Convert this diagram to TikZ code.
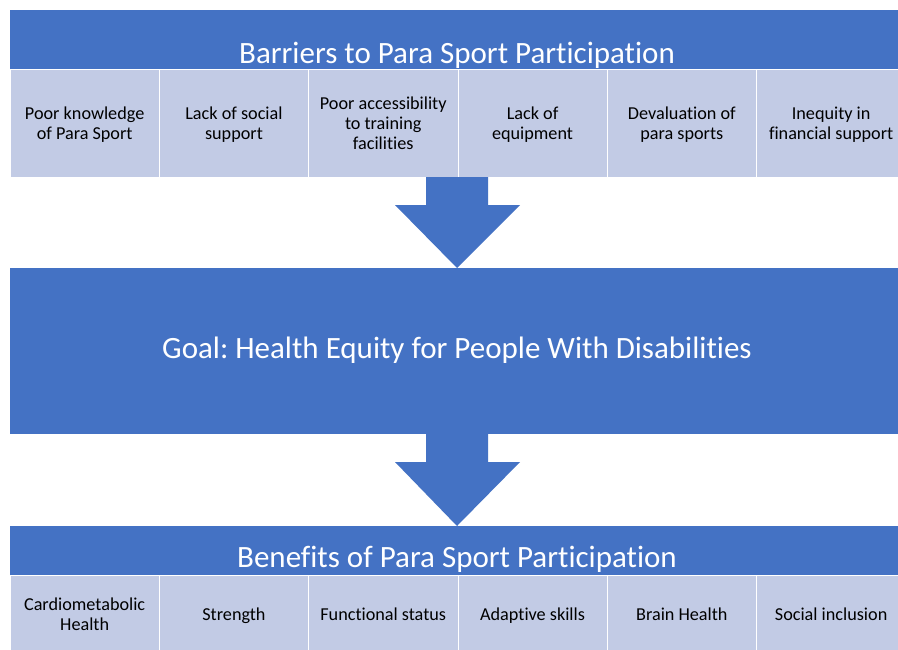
\documentclass[tikz,border=0pt]{standalone}
\usepackage{fontspec}
\setmainfont[RawFeature={-liga;-clig;-calt;-dlig}]{Carlito}
\frenchspacing
\definecolor{hdrblue}{HTML}{4472C4}
\definecolor{cellblue}{HTML}{C2CBE5}
\begin{document}
\begin{tikzpicture}[x=1pt,y=-1pt,
  hdr/.style={fill=hdrblue, draw=none, inner sep=0pt, outer sep=0pt, anchor=north west},
  hdrtext/.style={text=white, font=\fontsize{31}{36}\selectfont, anchor=base, inner sep=0pt},
  cell/.style={fill=cellblue, draw=white, line width=0.8pt, inner sep=0pt, outer sep=0pt,
    anchor=north west, minimum width=149.3pt},
  celltext/.style={align=center, inner sep=0pt, font=\fontsize{18.2}{20}\selectfont, text=black},
  blockarrow/.style={fill=hdrblue, draw=none}
]
\useasboundingbox (0,0) rectangle (898,649);
\clip (0,0) rectangle (898,649);
\fill[white] (0,0) rectangle (898,649);

% top header
\node[hdr, minimum width=900pt, minimum height=59pt] (tophdr) at (10,10) {};
\node[hdrtext] (toptitle) at (457,63) {Barriers to Para Sport Participation};

% barrier cells
\foreach \i/\t [count=\k] in {0/{\strut Poor knowledge\\of Para Sport\strut},1/{\strut Lack of social\\support\strut},2/{\strut Poor accessibility\\to training\\facilities\strut},3/{\strut Lack of\\equipment\strut},4/{\strut Devaluation of\\para sports\strut},5/{\strut Inequity in\\financial support\strut}}{
  \node[cell, minimum height=108pt] (bar\k) at ({10+149.3*\i},69) {};
  \node[celltext, yshift=-2.5pt] (bart\k) at (bar\k.center) {\t};
}

% arrow 1
\fill[blockarrow] (426,177) -- (488,177) -- (488,205) -- (520,205) -- (457,268) -- (395,205) -- (426,205) -- cycle;

% goal box
\node[hdr, minimum width=900pt, minimum height=166pt] (goal) at (10,268) {};
\node[text=white, font=\fontsize{31}{36}\selectfont, inner sep=0pt] (goaltext) at (457,350) {Goal: Health Equity for People With Disabilities};

% arrow 2
\fill[blockarrow] (426,434) -- (488,434) -- (488,462) -- (520,462) -- (457,526) -- (395,462) -- (426,462) -- cycle;

% bottom header
\node[hdr, minimum width=900pt, minimum height=49pt] (bothdr) at (10,526) {};
\node[hdrtext] (bottitle) at (457,567) {Benefits of Para Sport Participation};

% benefit cells
\foreach \i/\t [count=\k] in {0/{\strut Cardiometabolic\\Health\strut},1/{\strut Strength\strut},2/{\strut Functional status\strut},3/{\strut Adaptive skills\strut},4/{\strut Brain Health\strut},5/{\strut Social inclusion\strut}}{
  \node[cell, minimum height=78pt] (ben\k) at ({10+149.3*\i},575) {};
  \node[celltext, yshift=-2.5pt] (bent\k) at (ben\k.center) {\t};
}
\end{tikzpicture}
\end{document}
